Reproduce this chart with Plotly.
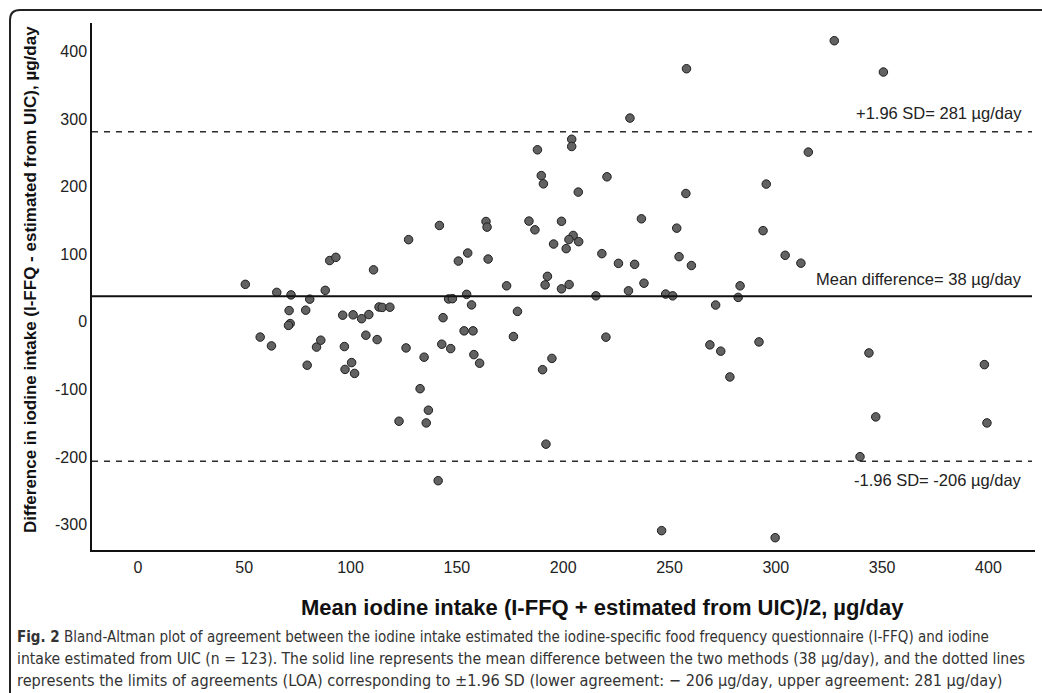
import plotly.graph_objects as go

# Mean of the two methods (µg/day)
mean_intake = [
    50.5, 65.3, 72.0, 80.8, 88.1, 90.2, 93.1, 71.1, 78.9, 71.6,
    70.8, 57.5, 62.8, 84.0, 86.0, 79.6, 96.3, 101.2, 97.1, 100.5,
    97.4, 101.9, 105.2, 108.6, 113.4, 114.9, 118.5, 107.2, 112.5, 126.1,
    134.6, 132.7, 136.6, 122.8, 135.6, 141.2, 142.9, 143.5, 147.1, 146.1,
    147.9, 154.6, 156.9, 153.4, 157.6, 158.0, 160.7, 173.4, 178.5, 176.6,
    191.5, 192.6, 199.2, 202.8, 194.7, 190.3, 191.9, 215.4, 220.1, 230.7,
    238.0, 248.2, 251.5, 246.3, 283.2, 282.3, 271.7, 269.0, 274.1, 292.1,
    278.4, 343.8, 398.1, 347.0, 399.3, 339.6, 299.7, 258.0, 231.4, 204.0,
    204.0, 187.9, 189.7, 190.7, 220.6, 207.1, 257.7, 236.8, 253.4, 183.9,
    186.7, 199.2, 204.7, 202.7, 207.3, 195.5, 201.4, 218.2, 226.0, 233.6,
    254.5, 260.3, 141.8, 163.7, 164.2, 127.3, 150.7, 155.1, 164.7, 110.8,
    327.5, 350.6, 315.3, 295.5, 294.0, 304.4, 311.8,
]
# Difference (I-FFQ - estimated from UIC), µg/day
difference = [
    55.5, 43.6, 39.9, 33.6, 46.6, 90.7, 95.4, 16.7, 17.3, -2.5,
    -5.2, -22.5, -35.5, -37.3, -27.1, -64.1, 9.9, 10.4, -36.5, -60.2,
    -70.3, -76.2, 4.7, 10.8, 22.0, 21.4, 21.7, -19.7, -26.2, -38.5,
    -52.2, -98.8, -130.6, -146.9, -149.4, -234.8, -33.0, 6.2, -39.5, 33.9,
    34.3, 40.7, 25.1, -13.3, -13.3, -48.4, -61.1, 53.3, 15.5, -21.7,
    54.7, 67.3, 48.8, 55.2, -54.0, -70.7, -180.8, 38.5, -22.6, 45.9,
    57.2, 41.1, 38.5, -308.7, 53.3, 36.2, 24.9, -34.0, -43.3, -29.6,
    -81.4, -45.9, -63.2, -140.5, -149.4, -199.3, -319.1, 374.3, 301.3, 270.0,
    259.3, 254.4, 216.3, 204.1, 214.5, 191.9, 189.8, 152.4, 138.6, 149.0,
    136.1, 148.7, 127.8, 121.7, 118.6, 115.1, 108.3, 100.9, 86.5, 85.1,
    96.4, 83.3, 142.5, 148.4, 140.1, 121.6, 89.9, 101.8, 92.9, 76.9,
    415.7, 369.4, 251.0, 203.7, 134.9, 98.4, 86.8,
]

mean_diff = 38
upper_loa = 281
lower_loa = -206

x_ticks = [0, 50, 100, 150, 200, 250, 300, 350, 400]
y_ticks = [-300, -200, -100, 0, 100, 200, 300, 400]

caption_lines = [
    "<b>Fig. 2</b> Bland-Altman plot of agreement between the iodine intake estimated the iodine-specific food frequency questionnaire (I-FFQ) and iodine",
    "intake estimated from UIC (n = 123). The solid line represents the mean difference between the two methods (38 µg/day), and the dotted lines",
    "represents the limits of agreements (LOA) corresponding to ±1.96 SD (lower agreement: − 206 µg/day, upper agreement: 281 µg/day)",
]

FONT = "Liberation Sans, Arial, sans-serif"
NARROW = "Liberation Sans Narrow, DejaVu Sans Condensed, Arial Narrow, sans-serif"

fig = go.Figure()
fig.add_trace(go.Scatter(
    x=mean_intake, y=difference, mode="markers",
    marker=dict(size=8.5, color="#626262", line=dict(color="#1e1e1e", width=1)),
    showlegend=False, hoverinfo="x+y",
))

W, H = 1042, 693
L, R, T, B = 92, 7, 23, 143
pw, ph = W - L - R, H - T - B

def px(x):
    return (x - L) / pw

def py(y):
    return 1 - (y - T) / ph

shapes = [
    dict(type="line", xref="paper", yref="y", x0=0, x1=px(1032), y0=mean_diff, y1=mean_diff,
         line=dict(color="#111111", width=2)),
    dict(type="line", xref="paper", yref="y", x0=0, x1=px(1032), y0=upper_loa, y1=upper_loa,
         line=dict(color="#2a2a2a", width=1.4, dash="6px,6px")),
    dict(type="line", xref="paper", yref="y", x0=0, x1=px(1032), y0=lower_loa, y1=lower_loa,
         line=dict(color="#2a2a2a", width=1.4, dash="6px,6px")),
]
# rounded outer frame
fx0, fy0 = px(10), py(10)
fyb, fxr = py(720), px(1060)
rx, ry = 10 / pw, 10 / ph
shapes.append(dict(
    type="path", xref="paper", yref="paper",
    path=(f"M {fx0},{fyb} L {fx0},{fy0 - ry} Q {fx0},{fy0} {fx0 + rx},{fy0} L {fxr},{fy0}"),
    line=dict(color="#222222", width=2),
))

annotations = [
    dict(x=px(1024), y=upper_loa, xref="paper", yref="y", xanchor="right", yanchor="bottom",
         yshift=8, text="+1.96 SD= 281 µg/day", showarrow=False,
         font=dict(family=FONT, size=16.5, color="#222222")),
    dict(x=px(1024), y=mean_diff, xref="paper", yref="y", xanchor="right", yanchor="bottom",
         yshift=6, text="Mean difference= 38 µg/day", showarrow=False,
         font=dict(family=FONT, size=16.5, color="#222222")),
    dict(x=px(1024), y=lower_loa, xref="paper", yref="y", xanchor="right", yanchor="top",
         yshift=-8, text="-1.96 SD= -206 µg/day", showarrow=False,
         font=dict(family=FONT, size=16.5, color="#222222")),
    dict(x=px(30), y=py(280), xref="paper", yref="paper", xanchor="center", yanchor="middle",
         textangle=-90, showarrow=False,
         text="<b>Difference in iodine intake (I-FFQ - estimated from UIC), µg/day</b>",
         font=dict(family=FONT, size=17, color="#111111")),
    dict(x=px(602), y=py(607), xref="paper", yref="paper", xanchor="center", yanchor="middle",
         showarrow=False,
         text="<b>Mean iodine intake (I-FFQ + estimated from UIC)/2, µg/day</b>",
         font=dict(family=FONT, size=22, color="#111111")),
]
caption_y = [637, 658.5, 680]
caption_sizes = [15, 15.6, 16.2]
for txt, yy, sz in zip(caption_lines, caption_y, caption_sizes):
    annotations.append(dict(
        x=px(15), y=py(yy), xref="paper", yref="paper", xanchor="left", yanchor="middle",
        showarrow=False, align="left", text=txt,
        font=dict(family=NARROW, size=sz, color="#333333")))

fig.update_layout(
    width=W, height=H,
    margin=dict(l=L, r=R, t=T, b=B),
    paper_bgcolor="white", plot_bgcolor="white",
    shapes=shapes, annotations=annotations,
    font=dict(family=FONT, size=16, color="#222222"),
    xaxis=dict(range=[-21.6, 421.9], tickvals=x_ticks, ticktext=[str(v) for v in x_ticks],
               showgrid=False, zeroline=False, showline=True, linecolor="#111111", linewidth=1.5,
               ticks="", ticklabelstandoff=2, tickfont=dict(family=FONT, size=16, color="#222222")),
    yaxis=dict(range=[-337.3, 441.9], tickvals=y_ticks, ticktext=[str(v) for v in y_ticks],
               showgrid=False, zeroline=False, showline=True, linecolor="#111111", linewidth=1.5,
               ticks="", ticklabelstandoff=0, tickfont=dict(family=FONT, size=16, color="#222222")),
)

fig.write_html("out.html")
